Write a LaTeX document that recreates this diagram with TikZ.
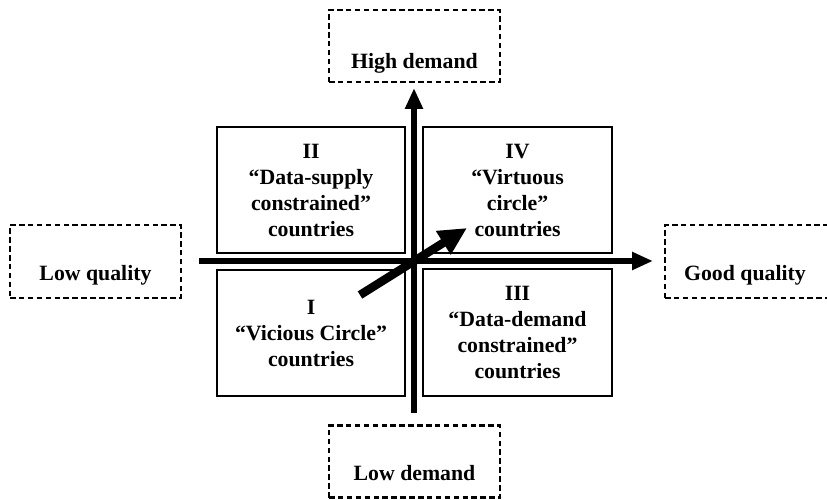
\documentclass[tikz,border=0pt]{standalone}
\usepackage{fontspec}
\setmainfont{Liberation Serif}
\usetikzlibrary{arrows.meta}
\begin{document}
\begin{tikzpicture}[x=1pt,y=-1pt,
  quad/.style={draw,line width=2pt,align=center,font=\bfseries\fontsize{21.8}{26}\selectfont,inner sep=0pt},
  dbox/.style={draw,line width=2.8pt,dash pattern=on 5.5pt off 3.4pt},
  lbl/.style={font=\bfseries\fontsize{21.8}{26}\selectfont,inner sep=0pt},
  axis/.style={line width=6.5pt,-{Triangle[length=21pt,width=17pt]}},
  trend/.style={line width=8.5pt,-{Triangle[length=28pt,width=26pt]}}]
\useasboundingbox (0,0) rectangle (827,500);

% quadrant boxes
\node[quad,minimum width=188,minimum height=126] (q2) at (311,190)
  {II\\``Data-supply\\constrained''\\countries};
\node[quad,minimum width=189,minimum height=126] (q4) at (517.5,190)
  {IV\\``Virtuous\\circle''\\countries};
\node[quad,minimum width=188,minimum height=126] (q1) at (311,333)
  {I\\``Vicious Circle''\\countries};
\node[quad,minimum width=189,minimum height=127] (q3) at (517.5,332.5)
  {III\\``Data-demand\\constrained''\\countries};

% dashed label boxes
\node[dbox,minimum width=171,minimum height=72] (hd) at (414.5,46) {};
\node[lbl] (hdt) at (414.5,63) {High demand};
\node[dbox,minimum width=171,minimum height=72] (ld) at (414.5,461.5) {};
\node[lbl] (ldt) at (414.5,473) {Low demand};
\node[dbox,minimum width=171,minimum height=73] (lq) at (95.5,261.5) {};
\node[lbl] (lqt) at (95.5,275) {Low quality};
\node[dbox,minimum width=170,minimum height=73] (gq) at (750,261.5) {};
\node[lbl] (gqt) at (745,275) {Good quality};

% axes
\coordinate (vbot) at (414,413);
\coordinate (vtop) at (414,88);
\coordinate (hleft) at (199,261);
\coordinate (hright) at (653,261);
\draw[axis] (vbot) -- (vtop);
\draw[axis] (hleft) -- (hright);

% movement from vicious to virtuous circle
\coordinate (tstart) at (360,295);
\coordinate (tend) at (467,228);
\draw[trend] (tstart) -- (tend);
\end{tikzpicture}
\end{document}
